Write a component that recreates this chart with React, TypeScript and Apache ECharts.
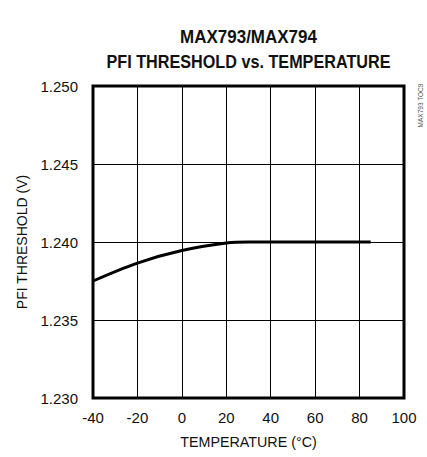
import React, { useEffect, useRef } from "react";
import * as echarts from "echarts";

const titleLines = ["MAX793/MAX794", "PFI THRESHOLD vs. TEMPERATURE"];
const sideNote = "MAX793 TOC9";
const xName = "TEMPERATURE (°C)";
const yName = "PFI THRESHOLD (V)";
const temperatures = [-40, -20, 0, 20, 30, 50, 85];
const thresholds = [1.2375, 1.23865, 1.23945, 1.23993, 1.24, 1.24, 1.24];
const xTicks = { min: -40, max: 100, interval: 20 };
const yTicks = { min: 1.23, max: 1.25, interval: 0.005 };

const FONT = "'Liberation Sans', Arial, sans-serif";

export default function App() {
  const ref = useRef<HTMLDivElement>(null);
  useEffect(() => {
    if (!ref.current) return;
    const chart = echarts.init(ref.current, undefined, { renderer: "svg" });
    chart.setOption({
      animation: false,
      backgroundColor: "#fff",
      grid: {
        left: 93,
        right: 23,
        top: 86,
        bottom: 59,
        show: true,
        borderColor: "#000",
        borderWidth: 3,
        backgroundColor: "transparent",
      },
      graphic: [
        {
          type: "text",
          x: 248.5,
          y: 37,
          scaleY: 1.12,
          style: {
            text: titleLines[0],
            fontFamily: FONT,
            fontWeight: "bold",
            fontSize: 17,
            fill: "#111",
            align: "center",
            verticalAlign: "middle",
          },
        },
        {
          type: "text",
          x: 248.5,
          y: 62,
          scaleY: 1.12,
          style: {
            text: titleLines[1],
            fontFamily: FONT,
            fontWeight: "bold",
            fontSize: 16.2,
            fill: "#111",
            align: "center",
            verticalAlign: "middle",
          },
        },
        {
          type: "text",
          x: 420.5,
          y: 105.5,
          rotation: Math.PI / 2,
          style: {
            text: sideNote,
            fontFamily: FONT,
            fontSize: 6.5,
            fill: "#555",
            align: "center",
            verticalAlign: "middle",
          },
        },
      ],
      xAxis: {
        type: "value",
        min: xTicks.min,
        max: xTicks.max,
        interval: xTicks.interval,
        name: xName,
        nameLocation: "middle",
        nameGap: 37,
        nameTextStyle: { fontFamily: FONT, fontSize: 14.3, color: "#111" },
        axisLine: { show: false },
        axisTick: { show: false },
        axisLabel: { fontFamily: FONT, fontSize: 15, color: "#111", margin: 12 },
        splitLine: { show: true, lineStyle: { color: "#000", width: 1 } },
      },
      yAxis: {
        type: "value",
        min: yTicks.min,
        max: yTicks.max,
        interval: yTicks.interval,
        name: yName,
        nameLocation: "middle",
        nameGap: 64,
        nameTextStyle: { fontFamily: FONT, fontSize: 14, color: "#111" },
        axisLine: { show: false },
        axisTick: { show: false },
        axisLabel: {
          fontFamily: FONT,
          fontSize: 15,
          color: "#111",
          margin: 15,
          formatter: (v: number) => v.toFixed(3),
        },
        splitLine: { show: true, lineStyle: { color: "#000", width: 1 } },
      },
      series: [
        {
          type: "line",
          data: temperatures.map((t, i) => [t, thresholds[i]]),
          smooth: 0.35,
          showSymbol: false,
          lineStyle: { color: "#000", width: 3 },
        },
      ],
    });
    return () => chart.dispose();
  }, []);
  return (
    <div
      ref={ref}
      style={{ position: "fixed", left: 0, top: 0, width: 427, height: 457 }}
    />
  );
}
